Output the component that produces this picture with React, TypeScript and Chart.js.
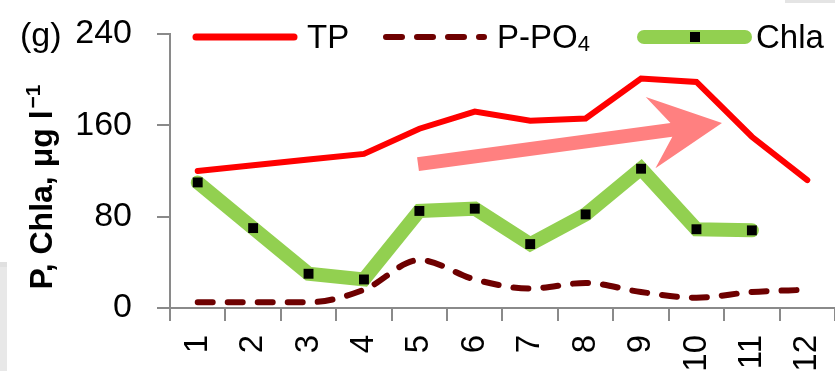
import React, { useEffect, useRef } from 'react';
import { Chart, registerables } from 'chart.js';

Chart.register(...registerables);

// ---- data ----
const categories = ['1', '2', '3', '4', '5', '6', '7', '8', '9', '10', '11', '12'];
const tpValues = [120, 125, 130, 135, 157, 172, 164, 166, 201, 198, 150, 112];
const po4Values = [5, 5, 5, 16, 42, 25, 17, 22, 14, 9, 14, 16];
const chlaValues: (number | null)[] = [110, 70, 30, 25, 85, 87, 56, 82, 122, 69, 68, null];
const yTickValues = [0, 80, 160, 240];
const seriesLabels = ['TP', 'P-PO4', 'Chla'];
const panelLabel = '(g)';
const yTitleMain = 'P, Chla, μg l';
const yTitleSup = '−1';
// trend arrow, in (category index, value) coordinates
const arrowStart = [3.975, 126];
const arrowTip = [9.46, 162];

const FONT = "'Liberation Sans', Arial, sans-serif";
const AXIS_GRAY = '#8a8a8a';
const TP_COLOR = '#ff0000';
const PO4_COLOR = '#6e0000';
const CHLA_COLOR = '#92d050';
const ARROW_COLOR = '#ff8080';

const decorPlugin = {
  id: 'decor',
  beforeDraw(chart: any) {
    const ctx = chart.ctx;
    ctx.save();
    ctx.fillStyle = '#ffffff';
    ctx.fillRect(0, 0, chart.width, chart.height);
    ctx.fillStyle = '#e8e8e8';
    ctx.fillRect(0, 262, 7, chart.height - 262);
    ctx.fillStyle = '#e0e0e0';
    ctx.fillRect(0, 262, 7, 5);
    ctx.fillStyle = '#e4e4e4';
    ctx.fillRect(785, 0, 50, 3);
    ctx.restore();
  },
  beforeDatasetsDraw(chart: any) {
    const ctx = chart.ctx;
    const xs = chart.scales.x;
    const ys = chart.scales.y;
    const sx = xs.getPixelForValue(arrowStart[0]);
    const sy = ys.getPixelForValue(arrowStart[1]);
    const tx = xs.getPixelForValue(arrowTip[0]);
    const ty = ys.getPixelForValue(arrowTip[1]);
    const dx = tx - sx;
    const dy = ty - sy;
    const L = Math.hypot(dx, dy);
    const ux = dx / L;
    const uy = dy / L;
    const nx = -uy;
    const ny = ux;
    const hw = 7;
    const headLen = 72;
    const headW = 36;
    const notch = 51;
    const p = (a: number, b: number) => [tx + ux * a + nx * b, ty + uy * a + ny * b];
    const pts = [
      [sx - nx * hw, sy - ny * hw],
      p(-notch, -hw),
      p(-headLen, -headW),
      p(0, 0),
      p(-headLen, headW),
      p(-notch, hw),
      [sx + nx * hw, sy + ny * hw],
    ];
    ctx.save();
    ctx.fillStyle = ARROW_COLOR;
    ctx.beginPath();
    pts.forEach((pt, i) => (i === 0 ? ctx.moveTo(pt[0], pt[1]) : ctx.lineTo(pt[0], pt[1])));
    ctx.closePath();
    ctx.fill();
    ctx.restore();
  },
  afterDraw(chart: any) {
    const ctx = chart.ctx;
    const ca = chart.chartArea;
    const ys = chart.scales.y;
    ctx.save();
    ctx.fillStyle = '#000';
    ctx.textBaseline = 'alphabetic';
    ctx.textAlign = 'left';

    ctx.font = `34px ${FONT}`;
    ctx.fillText(panelLabel, 20, ys.getPixelForValue(240) + 12);

    // legend
    const ly = ca.top + 3;
    const tb = ly + 11;
    ctx.lineCap = 'round';
    ctx.strokeStyle = TP_COLOR;
    ctx.lineWidth = 7;
    ctx.beginPath();
    ctx.moveTo(196, ly);
    ctx.lineTo(294, ly);
    ctx.stroke();
    ctx.font = `33px ${FONT}`;
    ctx.fillText(seriesLabels[0], 307, tb);

    ctx.strokeStyle = PO4_COLOR;
    ctx.lineWidth = 6;
    ctx.setLineDash([16, 15]);
    ctx.beginPath();
    ctx.moveTo(386, ly);
    ctx.lineTo(484, ly);
    ctx.stroke();
    ctx.setLineDash([]);
    const base = seriesLabels[1].slice(0, -1);
    const sub = seriesLabels[1].slice(-1);
    ctx.font = `33px ${FONT}`;
    ctx.fillText(base, 497, tb);
    const bw = ctx.measureText(base).width;
    ctx.font = `22px ${FONT}`;
    ctx.fillText(sub, 497 + bw, tb + 3);

    ctx.strokeStyle = CHLA_COLOR;
    ctx.lineWidth = 14;
    ctx.beginPath();
    ctx.moveTo(644, ly);
    ctx.lineTo(745, ly);
    ctx.stroke();
    ctx.fillStyle = '#000';
    ctx.fillRect(690, ly - 5, 10, 10);
    ctx.font = `33px ${FONT}`;
    ctx.fillText(seriesLabels[2], 756, tb);

    // y axis title
    ctx.translate(40, 187);
    ctx.rotate(-Math.PI / 2);
    ctx.font = `bold 32px ${FONT}`;
    const wMain = ctx.measureText(yTitleMain).width;
    ctx.font = `bold 21px ${FONT}`;
    const wSup = ctx.measureText(yTitleSup).width;
    const x0 = -(wMain + wSup + 2) / 2;
    ctx.font = `bold 32px ${FONT}`;
    ctx.fillText(yTitleMain, x0, 12);
    ctx.font = `bold 21px ${FONT}`;
    ctx.fillText(yTitleSup, x0 + wMain + 2, 0);
    ctx.restore();
  },
};

export default function App() {
  const ref = useRef<HTMLCanvasElement | null>(null);

  useEffect(() => {
    document.body.style.margin = '0';
    if (!ref.current) return;
    const chart = new Chart(ref.current, {
      type: 'line',
      data: {
        labels: categories,
        datasets: [
          {
            label: seriesLabels[0],
            data: tpValues,
            borderColor: TP_COLOR,
            backgroundColor: TP_COLOR,
            borderWidth: 6,
            borderCapStyle: 'round',
            pointRadius: 0,
            tension: 0,
          },
          {
            label: seriesLabels[1],
            data: po4Values,
            borderColor: PO4_COLOR,
            backgroundColor: PO4_COLOR,
            borderWidth: 6,
            borderDash: [15, 15],
            borderCapStyle: 'round',
            pointRadius: 0,
            cubicInterpolationMode: 'monotone',
          },
          {
            label: seriesLabels[2],
            data: chlaValues,
            borderColor: CHLA_COLOR,
            backgroundColor: CHLA_COLOR,
            borderWidth: 14,
            borderCapStyle: 'round',
            pointStyle: 'rect',
            pointRadius: 7,
            pointBackgroundColor: '#000',
            pointBorderColor: '#000',
            pointBorderWidth: 0,
            tension: 0,
          },
        ],
      },
      options: {
        animation: false,
        responsive: true,
        maintainAspectRatio: false,
        devicePixelRatio: 1,
        events: [],
        layout: { autoPadding: false, padding: { top: 34, left: 0, right: 0, bottom: 0 } },
        plugins: {
          legend: { display: false },
          title: { display: false },
          tooltip: { enabled: false },
        },
        scales: {
          x: {
            type: 'category',
            offset: true,
            grid: {
              offset: true,
              drawOnChartArea: false,
              drawTicks: true,
              tickLength: 13,
              color: AXIS_GRAY,
              lineWidth: 2,
            },
            border: { display: true, color: AXIS_GRAY, width: 2 },
            ticks: {
              minRotation: 90,
              maxRotation: 90,
              padding: 14,
              color: '#000',
              font: { family: FONT, size: 33 },
            },
            afterFit: (s: any) => {
              s.height = 63;
              s.paddingLeft = 0;
              s.paddingRight = 0;
            },
          },
          y: {
            min: 0,
            max: 240,
            grid: {
              drawOnChartArea: false,
              drawTicks: true,
              tickLength: 13,
              color: AXIS_GRAY,
              lineWidth: 2,
            },
            border: { display: true, color: AXIS_GRAY, width: 2 },
            ticks: {
              padding: 25,
              color: '#000',
              font: { family: FONT, size: 34 },
            },
            afterBuildTicks: (s: any) => {
              s.ticks = yTickValues.map((v) => ({ value: v }));
            },
            afterFit: (s: any) => {
              s.width = 170;
              s.paddingTop = 0;
              s.paddingBottom = 0;
            },
          },
        },
      },
      plugins: [decorPlugin],
    } as any);
    return () => chart.destroy();
  }, []);

  return (
    <div style={{ width: 835, height: 371, position: 'relative' }}>
      <canvas ref={ref} />
    </div>
  );
}
